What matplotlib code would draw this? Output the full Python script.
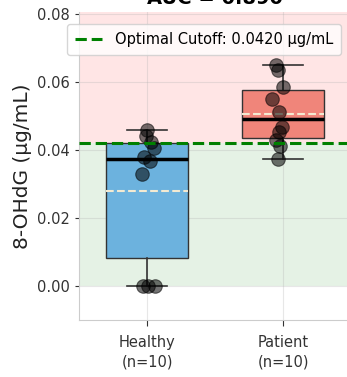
import numpy as np
import matplotlib
matplotlib.use("Agg")
import matplotlib.pyplot as plt

#-------------------------------Data----------------------------------

groups = ["Healthy", "Patient"]
healthy = [0.0, 0.0, 0.0, 0.0330, 0.0368, 0.0380, 0.0405, 0.0425, 0.0440, 0.0458]
patient = [0.0374, 0.0412, 0.0429, 0.0454, 0.0468, 0.0513, 0.0550, 0.0586, 0.0635, 0.0650]
cutoff = 0.042
auc = 0.890

# small fixed horizontal jitter for the dots
jitter_h = [-0.03, 0.06, 0.01, -0.04, 0.02, -0.02, 0.05, 0.03, -0.01, 0.0]
jitter_p = [-0.04, -0.02, -0.05, -0.03, -0.01, -0.03, -0.08, 0.0, -0.04, -0.05]

#-------------------------------Figure--------------------------------

fig = plt.figure(figsize=(3.47, 3.77), dpi=100)
ax = fig.add_axes([0.2277, 0.1512, 0.7839, 0.817])

ax.axhspan(cutoff, 1.0, color="red", alpha=0.1, lw=0, zorder=0)
ax.axhspan(0.0, cutoff, color="green", alpha=0.1, lw=0, zorder=0)

bp = ax.boxplot([healthy, patient], positions=[0, 1], widths=0.6,
                patch_artist=True, showmeans=True, meanline=True,
                showfliers=False, zorder=2,
                medianprops=dict(color="black", lw=2.5),
                meanprops=dict(color="#f3ead2", ls="--", lw=1.5),
                whiskerprops=dict(color="#333333", lw=1.2),
                capprops=dict(color="#333333", lw=1.2),
                boxprops=dict(edgecolor="#333333", lw=1.0))
for patch, c in zip(bp["boxes"], ["#6cb2de", "#f0857a"]):
    patch.set_facecolor(c)

for i, (vals, jit) in enumerate([(healthy, jitter_h), (patient, jitter_p)]):
    ax.scatter(np.array(jit) + i, vals, s=95, color="black", alpha=0.55,
               edgecolor="black", lw=0.8, zorder=3)

ax.axhline(cutoff, color="green", ls="--", lw=2.2,
           label=f"Optimal Cutoff: {cutoff:.4f} µg/mL", zorder=4)

ax.set_xlim(-0.5, 1.5)
ax.set_ylim(-0.01, 0.0806)
ax.set_yticks([0.0, 0.02, 0.04, 0.06, 0.08])
ax.set_xticks([0, 1])
ax.set_xticklabels([f"{g}\n(n={len(v)})" for g, v in zip(groups, [healthy, patient])],
                   fontsize=10.5, color="#333333", linespacing=1.35)
ax.tick_params(axis="y", labelsize=10.5, colors="#333333", length=3)
ax.tick_params(axis="x", length=4, pad=7, colors="#333333")
ax.set_ylabel("8-OHdG (µg/mL)", fontsize=14.5, color="#222222", labelpad=4)
ax.set_title(f"AUC = {auc:.3f}", fontsize=14, fontweight="bold", pad=6)

ax.grid(True, alpha=0.3, zorder=1)
ax.set_axisbelow(True)
for s in ["top", "right"]:
    ax.spines[s].set_visible(False)
for s in ["left", "bottom"]:
    ax.spines[s].set_color("#cccccc")

ax.legend(loc="upper right", fontsize=10.5, framealpha=0.8, borderpad=0.55,
          handlelength=1.8, handletextpad=0.9, bbox_to_anchor=(0.99, 0.985))

fig.savefig("out.png", dpi=100)
